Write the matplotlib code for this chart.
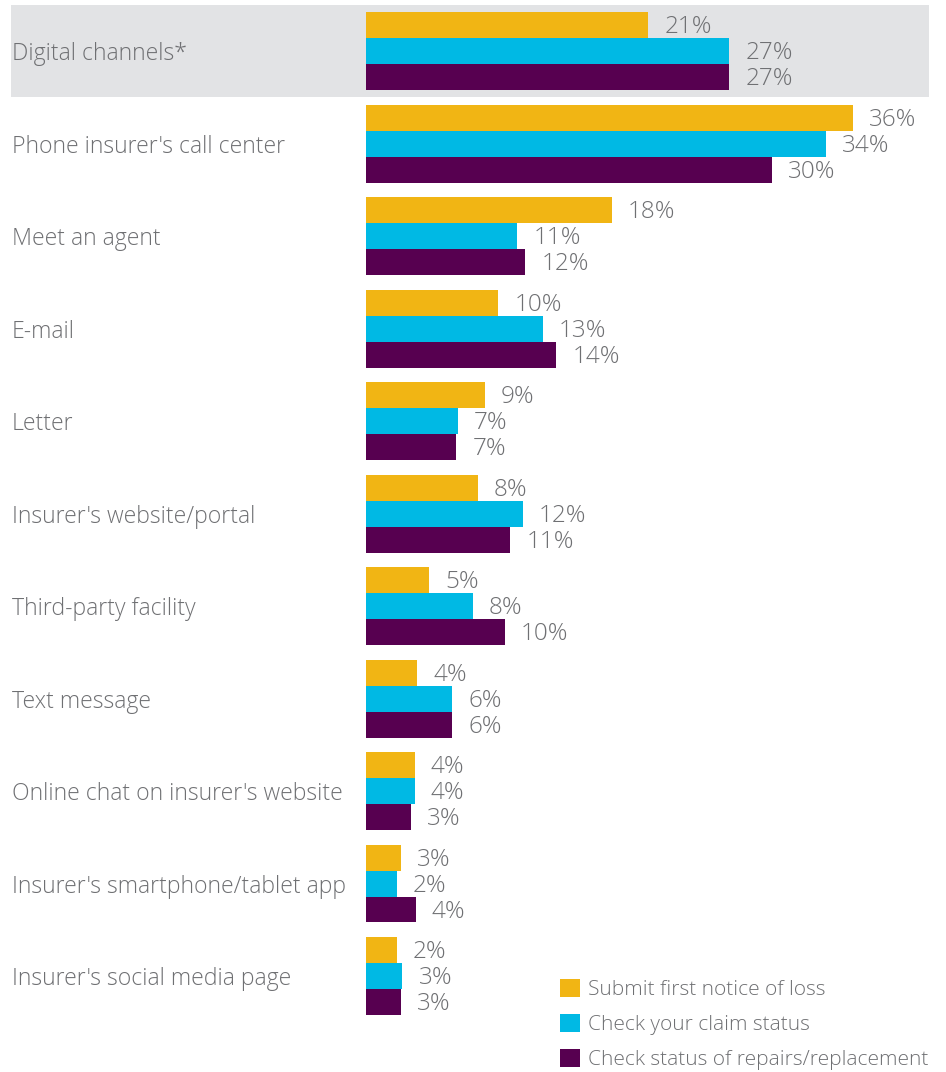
import matplotlib
matplotlib.use("Agg")
import matplotlib.pyplot as plt
from matplotlib.patches import Patch
from matplotlib.transforms import blended_transform_factory
import numpy as np

categories = ["Digital channels*", "Phone insurer's call center", "Meet an agent", "E-mail",
              "Letter", "Insurer's website/portal", "Third-party facility", "Text message",
              "Online chat on insurer's website", "Insurer's smartphone/tablet app",
              "Insurer's social media page"]
series_names = ["Submit first notice of loss", "Check your claim status",
                "Check status of repairs/replacement"]
# bar lengths
submit_vals = [20.9, 36.1, 18.2, 9.8, 8.8, 8.3, 4.7, 3.8, 3.6, 2.6, 2.3]
claim_vals = [26.9, 34.1, 11.2, 13.1, 6.8, 11.6, 7.9, 6.4, 3.6, 2.3, 2.7]
repair_vals = [26.9, 30.1, 11.8, 14.1, 6.7, 10.7, 10.3, 6.4, 3.3, 3.7, 2.6]
# printed labels
submit_lbl = [21, 36, 18, 10, 9, 8, 5, 4, 4, 3, 2]
claim_lbl = [27, 34, 11, 13, 7, 12, 8, 6, 4, 2, 3]
repair_lbl = [27, 30, 12, 14, 7, 11, 10, 6, 3, 4, 3]

colors = ["#F1B514", "#00B9E4", "#570050"]
text_gray = "#6F7073"
FONT = "Open Sans"

W, H = 946, 1072
fig = plt.figure(figsize=(W / 100, H / 100), dpi=100)
ax = fig.add_axes([0, 0, 1, 1])
px_per_unit = 13.5
x0 = 366
ax.set_xlim(-x0 / px_per_unit, (W - x0) / px_per_unit)
pitch = 92.5
top_center = 51.15
ax.set_ylim((H - top_center) / pitch, -top_center / pitch)
ax.axis("off")

# highlight band
ax.axhspan(-0.499, 0.496, xmin=11 / W, xmax=929 / W, color="#E2E3E5", zorder=0, lw=0)

y = np.arange(len(categories))
bh = 0.28
for k, (vals, lbls) in enumerate([(submit_vals, submit_lbl), (claim_vals, claim_lbl),
                                  (repair_vals, repair_lbl)]):
    yy = y + (k - 1) * bh
    ax.barh(yy, vals, height=bh, color=colors[k], zorder=2, label=series_names[k])
    for yi, v, l in zip(yy, vals, lbls):
        ax.annotate(f"{l}%", xy=(v, yi), xytext=(16, -2), textcoords="offset pixels",
                    ha="left", va="center", fontsize=17.5, color=text_gray,
                    family=FONT, fontweight="light")

trans = blended_transform_factory(fig.transFigure, ax.transData)
for yi, c in zip(y, categories):
    ax.annotate(c, xy=(12 / W, yi), xycoords=trans, xytext=(0, -3),
                textcoords="offset pixels", ha="left", va="center", fontsize=16.6,
                color=text_gray, family=FONT, fontweight="light")

handles = [Patch(facecolor=colors[k], edgecolor="none") for k in range(3)]
leg = fig.legend(handles, series_names, loc="lower left",
                 bbox_to_anchor=(558 / W, 0 / H), frameon=False,
                 prop={"family": FONT, "size": 15, "weight": "light"},
                 handlelength=0.96, handleheight=0.96, handletextpad=0.4,
                 labelspacing=0.66, borderaxespad=0.0, borderpad=0.1)
for t in leg.get_texts():
    t.set_color(text_gray)

fig.savefig("out.png", dpi=100)
